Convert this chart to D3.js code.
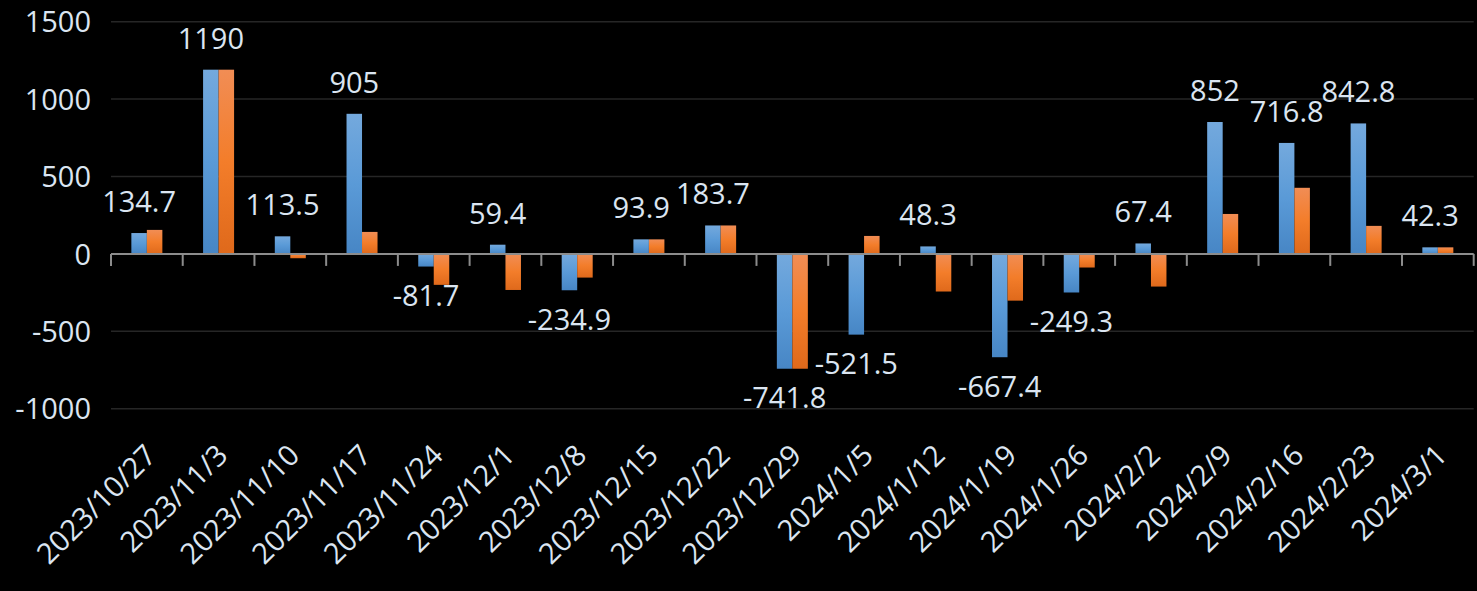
<!DOCTYPE html>
<html>
<head>
<meta charset="utf-8">
<script src="https://cdn.jsdelivr.net/npm/d3@7"></script>
<style>
  html, body { margin: 0; padding: 0; background: #000; }
  svg { display: block; }
  text { font-family: "Open Sans", "Noto Sans", sans-serif; fill: #dbe5f1; }
</style>
</head>
<body>
<div id="chart"></div>
<script>
// weekly dates
var categories = ["2023/10/27", "2023/11/3", "2023/11/10", "2023/11/17", "2023/11/24",
  "2023/12/1", "2023/12/8", "2023/12/15", "2023/12/22", "2023/12/29", "2024/1/5",
  "2024/1/12", "2024/1/19", "2024/1/26", "2024/2/2", "2024/2/9", "2024/2/16",
  "2024/2/23", "2024/3/1"];

// blue series (labelled)
var blueValues = [134.7, 1190, 113.5, 905, -81.7, 59.4, -234.9, 93.9, 183.7, -741.8,
  -521.5, 48.3, -667.4, -249.3, 67.4, 852, 716.8, 842.8, 42.3];

// orange series (no labels)
var orangeValues = [155, 1190, -28, 142, -200, -233, -153, 93.9, 183.7, -741.8,
  116, -243, -302, -88, -211, 258, 427, 181, 42.3];

var yTicks = [-1000, -500, 0, 500, 1000, 1500];

var svgWidth = 1477;
var svgHeight = 591;

var svg = d3.select("#chart")
  .append("svg")
  .attr("width", svgWidth)
  .attr("height", svgHeight);

svg.append("rect")
  .attr("width", svgWidth)
  .attr("height", svgHeight)
  .attr("fill", "#000");

// gradients for the bars
var defs = svg.append("defs");
function addGradient(id, stops) {
  var g = defs.append("linearGradient")
    .attr("id", id)
    .attr("x1", 0).attr("y1", 0)
    .attr("x2", 0).attr("y2", 1);
  stops.forEach(function (s) {
    g.append("stop").attr("offset", s[0]).attr("stop-color", s[1]);
  });
}
addGradient("gradBlue", [["0%", "#74a9dd"], ["50%", "#5a9ad7"], ["100%", "#4786c5"]]);
addGradient("gradOrange", [["0%", "#f18d55"], ["50%", "#f37d2a"], ["100%", "#df691b"]]);

// scales
var xScale = d3.scaleBand()
  .domain(categories)
  .range([111, 1473.7])
  .padding(0);

var barW = 15.5;
var xInner = d3.scaleBand()
  .domain(["blue", "orange"])
  .range([xScale.bandwidth() / 2 - barW, xScale.bandwidth() / 2 + barW]);

var yScale = d3.scaleLinear()
  .domain([-1000, 1500])
  .range([408.7, 21.7]);

// gridlines
svg.append("g")
  .selectAll("line")
  .data(yTicks.filter(function (d) { return d !== 0; }))
  .enter()
  .append("line")
  .attr("x1", 111)
  .attr("x2", 1473.7)
  .attr("y1", function (d) { return yScale(d); })
  .attr("y2", function (d) { return yScale(d); })
  .attr("stroke", "#262626")
  .attr("stroke-width", 1.5);

// y axis labels
var leftAxis = d3.axisLeft(yScale)
  .tickValues(yTicks)
  .tickFormat(function (d) { return String(d); })
  .tickSize(0)
  .tickPadding(0);

var yAxis = svg.append("g")
  .attr("transform", "translate(91, 0)")
  .call(leftAxis);
yAxis.select(".domain").remove();
yAxis.selectAll("text")
  .attr("font-size", 29)
  .attr("font-family", "'Open Sans', 'Noto Sans', sans-serif")
  .attr("fill", "#dbe5f1")
  .attr("dy", "0.35em");

// bars
function drawBars(values, key, fill) {
  svg.append("g")
    .selectAll("rect")
    .data(values)
    .enter()
    .append("rect")
    .attr("x", function (d, i) { return xScale(categories[i]) + xInner(key); })
    .attr("width", xInner.bandwidth())
    .attr("y", function (d) { return yScale(Math.max(0, d)); })
    .attr("height", function (d) { return Math.abs(yScale(d) - yScale(0)); })
    .attr("fill", fill);
}
drawBars(blueValues, "blue", "url(#gradBlue)");
drawBars(orangeValues, "orange", "url(#gradOrange)");

// zero axis line + ticks at band edges
var y0 = yScale(0);
var axisG = svg.append("g");
axisG.append("line")
  .attr("x1", 111).attr("x2", 1473.7)
  .attr("y1", y0).attr("y2", y0)
  .attr("stroke", "#8c8c8c")
  .attr("stroke-width", 2);

var tickXs = categories.map(function (c) { return xScale(c); });
tickXs.push(xScale.range()[1]);
axisG.selectAll(".tick")
  .data(tickXs)
  .enter()
  .append("line")
  .attr("x1", function (d) { return d; })
  .attr("x2", function (d) { return d; })
  .attr("y1", y0)
  .attr("y2", y0 + 12)
  .attr("stroke", "#8c8c8c")
  .attr("stroke-width", 2);

// data labels on the blue series
svg.append("g")
  .selectAll("text")
  .data(blueValues)
  .enter()
  .append("text")
  .attr("x", function (d, i) {
    return xScale(categories[i]) + xInner("blue") + xInner.bandwidth() / 2;
  })
  .attr("y", function (d) {
    return d >= 0 ? yScale(d) - 21 : yScale(d) + 39.5;
  })
  .attr("text-anchor", "middle")
  .attr("font-size", 29)
  .text(function (d) { return d; });

// category labels, rotated, at the bottom
svg.append("g")
  .selectAll("text")
  .data(categories)
  .enter()
  .append("text")
  .attr("transform", function (d) {
    var cx = xScale(d) + xScale.bandwidth() / 2;
    return "translate(" + (cx + 11) + "," + 457 + ") rotate(-45)";
  })
  .attr("text-anchor", "end")
  .attr("font-size", 29)
  .text(function (d) { return d; });
</script>
</body>
</html>
